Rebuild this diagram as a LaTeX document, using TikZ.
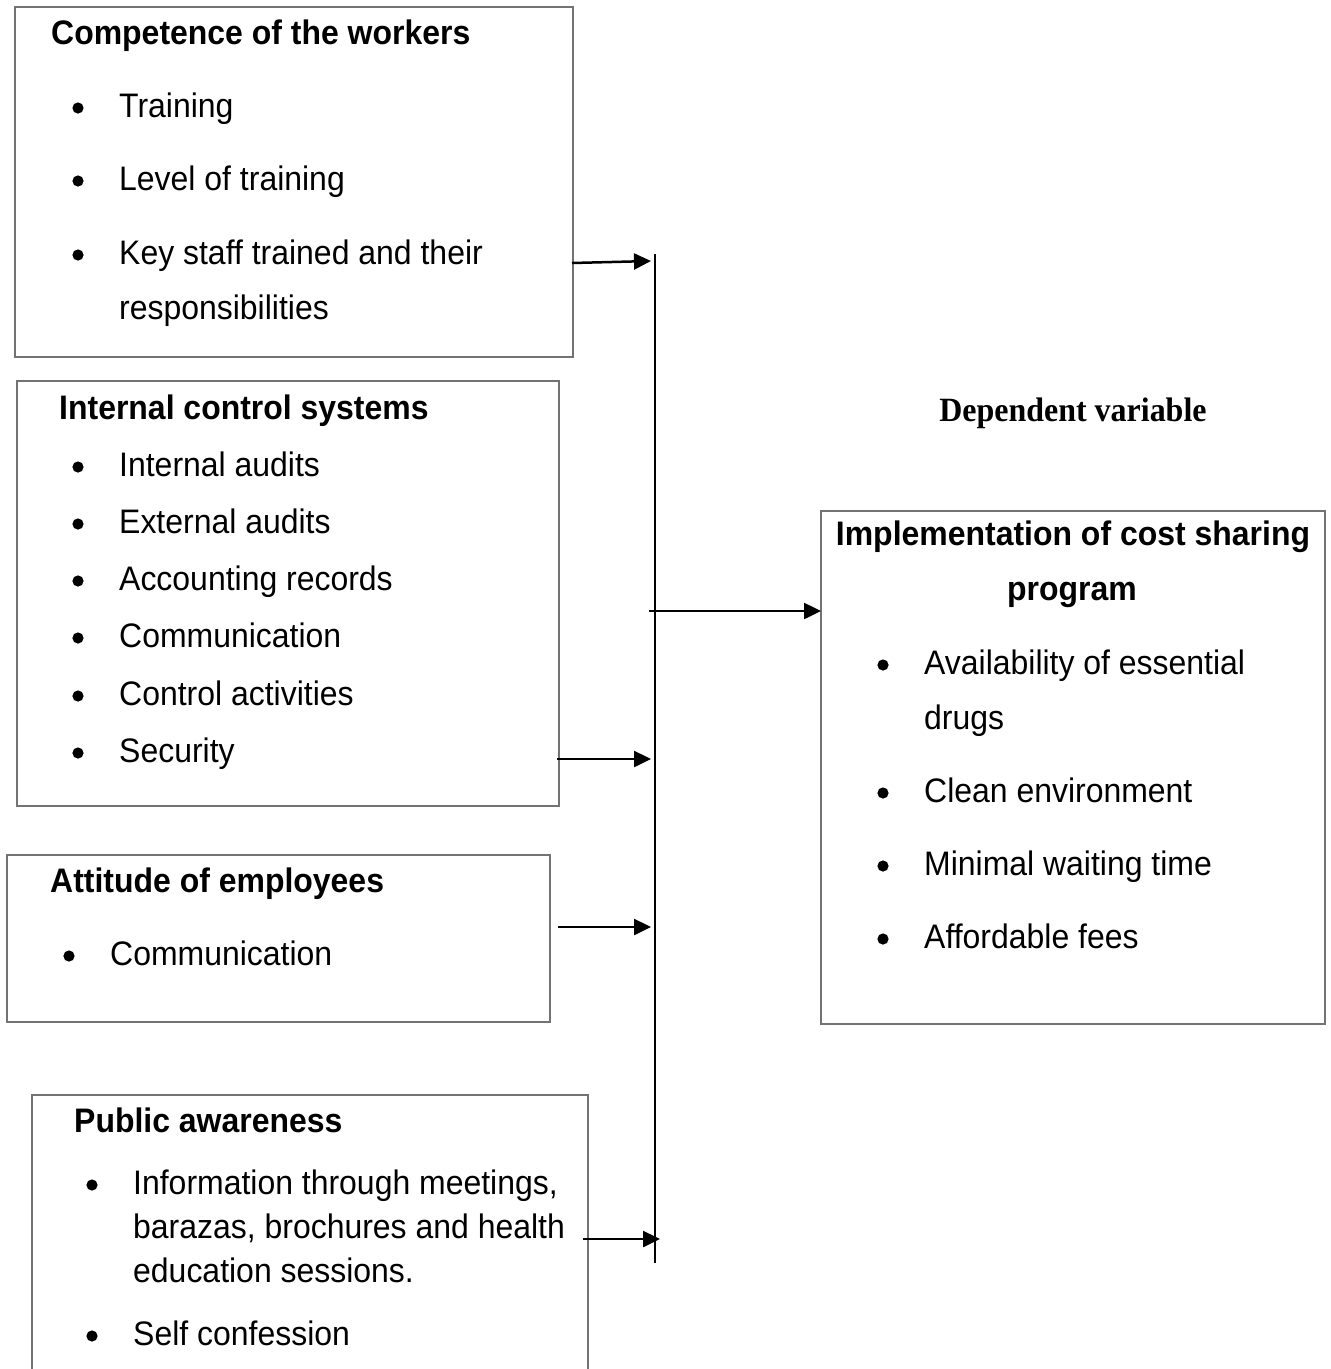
\documentclass[tikz,border=0pt]{standalone}
\usepackage{fontspec}
\setmainfont{Liberation Sans}[FakeStretch=0.94]
\newfontfamily\serifface{Liberation Serif}[FakeStretch=0.94]
\usetikzlibrary{arrows.meta}
\newcommand\bitem[4]{\fill (#2-41,#3-9) circle (5.6pt); \node[txt] (#1) at (#2,#3) {#4};}
\begin{document}
\begin{tikzpicture}[x=1pt,y=-1pt,
 box/.style={draw=black!55, line width=1.3pt, inner sep=0pt, outer sep=0pt, anchor=north west},
 txt/.style={anchor=base west, inner sep=0pt, font=\fontsize{34}{40}\selectfont},
 ttl/.style={anchor=base west, inner sep=0pt, font=\fontsize{34}{40}\selectfont\bfseries},
 arr/.style={line width=2.5pt, -{Triangle[length=17pt,width=16pt]}},
 bus/.style={line width=2.5pt}]
\useasboundingbox (0,0) rectangle (1331,1369);
\clip (0,0) rectangle (1331,1369);
\fill[white] (0,0) rectangle (1331,1369);

% boxes
\node[box, minimum width=558pt, minimum height=350pt] (b1) at (15,7) {};
\node[box, minimum width=542pt, minimum height=425pt] (b2) at (17,381) {};
\node[box, minimum width=543pt, minimum height=167pt] (b3) at (7,855) {};
\node[box, minimum width=556pt, minimum height=320pt] (b4) at (32,1095) {};
\node[box, minimum width=504pt, minimum height=513pt] (b5) at (821,511) {};

% box 1
\node[ttl] (t1) at (51,44) {Competence of the workers};
\bitem{i11}{119}{117}{Training}
\bitem{i12}{119}{190}{Level of training}
\bitem{i13}{119}{264}{Key staff trained and their}
\node[txt] (i13b) at (119,319) {responsibilities};

% box 2
\node[ttl] (t2) at (59,419) {Internal control systems};
\bitem{i21}{119}{476}{Internal audits}
\bitem{i22}{119}{533}{External audits}
\bitem{i23}{119}{590}{Accounting records}
\bitem{i24}{119}{647}{Communication}
\bitem{i25}{119}{705}{Control activities}
\bitem{i26}{119}{762}{Security}

% box 3
\node[ttl] (t3) at (50,892) {Attitude of employees};
\bitem{i31}{110}{965}{Communication}

% box 4
\node[ttl] (t4) at (74,1132) {Public awareness};
\bitem{i41}{133}{1194}{Information through meetings,}
\node[txt] (i41b) at (133,1238) {barazas, brochures and health};
\node[txt] (i41c) at (133,1282) {education sessions.};
\bitem{i42}{133}{1345}{Self confession}

% right box
\node[anchor=base, inner sep=0pt, font=\fontsize{34}{40}\serifface\bfseries\selectfont] (dv) at (1073,421) {Dependent variable};
\node[anchor=base, inner sep=0pt, font=\fontsize{34}{40}\selectfont\bfseries] (t5a) at (1073,545) {Implementation of cost sharing};
\node[anchor=base, inner sep=0pt, font=\fontsize{34}{40}\selectfont\bfseries] (t5b) at (1072,600) {program};
\bitem{i51}{924}{674}{Availability of essential}
\node[txt] (i51b) at (924,729) {drugs};
\bitem{i52}{924}{802}{Clean environment}
\bitem{i53}{924}{875}{Minimal waiting time}
\bitem{i54}{924}{948}{Affordable fees}

% bus and connectors
\coordinate (busTop) at (655,254);
\coordinate (busBot) at (655,1263);
\draw[bus] (busTop) -- (busBot);
\coordinate (s1) at (572,263);
\coordinate (e1) at (651,261);
\coordinate (s2) at (557,759);
\coordinate (e2) at (651,759);
\coordinate (s3) at (558,927);
\coordinate (e3) at (651,927);
\coordinate (s4) at (583,1239);
\coordinate (e4) at (660,1239);
\coordinate (sm) at (649,611);
\draw[arr] (s1) -- (e1);
\draw[arr] (s2) -- (e2);
\draw[arr] (s3) -- (e3);
\draw[arr] (s4) -- (e4);
\draw[arr] (sm) -- (b5.west |- sm);
\end{tikzpicture}
\end{document}
